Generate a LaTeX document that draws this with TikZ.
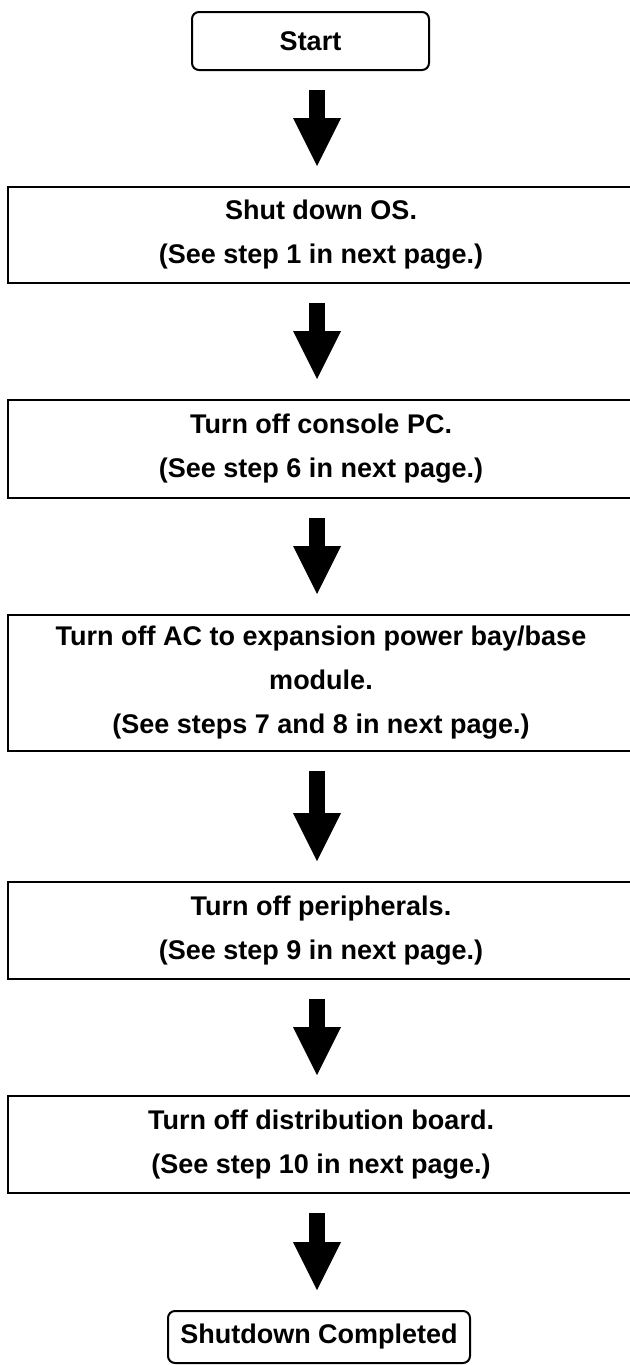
\documentclass[tikz,border=0pt]{standalone}
\usepackage{fontspec}
\setmainfont{Liberation Sans}
\usetikzlibrary{arrows.meta}
\begin{document}
\begin{tikzpicture}[
  x=0.5pt, y=-0.5pt,
  font=\fontsize{13.5}{22}\selectfont\bfseries,
  box/.style={draw, line width=1pt, minimum width=313pt, minimum height=#1,
              align=center, inner sep=0pt},
  term/.style={draw, line width=1pt, rounded corners=3.5pt, minimum height=#1,
               align=center, inner sep=0pt},
  flow/.style={-{Triangle[width=24pt, length=24pt, line width=0pt]}, line width=8pt,
               shorten <=9.5pt, shorten >=10pt}
]
  \useasboundingbox (0,0) rectangle (630,1365);
  \clip (0,0) rectangle (630,1365);
  \coordinate (ax) at (317,0);
  \node[term=29pt, minimum width=118.5pt] (start) at (310.5,41) {Start};
  \node[box=48pt] (os) at (321,235) {Shut down OS.\\(See step 1 in next page.)};
  \node[box=49pt] (pc) at (321,449) {Turn off console PC.\\(See step 6 in next page.)};
  \node[box=68pt] (ac) at (321,683)
    {Turn off AC to expansion power bay/base\\module.\\(See steps 7 and 8 in next page.)};
  \node[box=48.5pt] (periph) at (321,930.5) {Turn off peripherals.\\(See step 9 in next page.)};
  \node[box=48.5pt] (board) at (321,1144.5) {Turn off distribution board.\\(See step 10 in next page.)};
  \node[term=26pt, minimum width=151pt] (done) at (319,1337) {Shutdown Completed};
  \draw[flow] (start.south -| ax) -- (os.north -| ax);
  \draw[flow] (os.south -| ax) -- (pc.north -| ax);
  \draw[flow] (pc.south -| ax) -- (ac.north -| ax);
  \draw[flow] (ac.south -| ax) -- (periph.north -| ax);
  \draw[flow] (periph.south -| ax) -- (board.north -| ax);
  \draw[flow] (board.south -| ax) -- (done.north -| ax);
\end{tikzpicture}
\end{document}
